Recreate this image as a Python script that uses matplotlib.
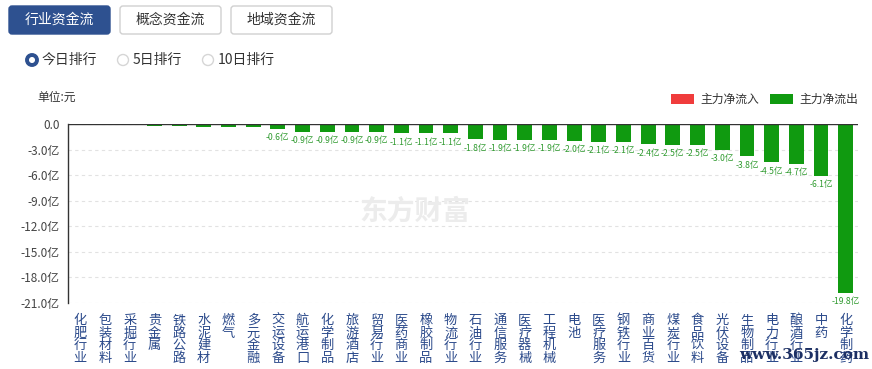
import numpy as np
import matplotlib
matplotlib.use("Agg")
import matplotlib.pyplot as plt
from matplotlib.patches import FancyBboxPatch, Circle, Patch

plt.rcParams['font.family'] = ['Noto Sans CJK SC', 'DejaVu Sans']

# data (亿元)
industries = ["化肥行业", "包装材料", "采掘行业", "贵金属", "铁路公路", "水泥建材", "燃气",
              "多元金融", "交运设备", "航运港口", "化学制品", "旅游酒店", "贸易行业", "医药商业",
              "橡胶制品", "物流行业", "石油行业", "通信服务", "医疗器械", "工程机械", "电池",
              "医疗服务", "钢铁行业", "商业百货", "煤炭行业", "食品饮料", "光伏设备", "生物制品",
              "电力行业", "酿酒行业", "中药", "化学制药"]
net_flow = [-0.02, -0.15, -0.15, -0.2, -0.25, -0.3, -0.35, -0.4, -0.6, -0.9, -0.9, -0.9,
            -0.9, -1.1, -1.1, -1.1, -1.8, -1.9, -1.9, -1.9, -2.0, -2.1, -2.1, -2.4, -2.5,
            -2.5, -3.0, -3.8, -4.5, -4.7, -6.1, -19.8]
yticks = [0, -3, -6, -9, -12, -15, -18, -21]
tabs = ["行业资金流", "概念资金流", "地域资金流"]
ranks = ["今日排行", "5日排行", "10日排行"]

W, H = 872, 369
fig = plt.figure(figsize=(W / 100, H / 100), dpi=100)

# overlay for page widgets, pixel coords
ov = fig.add_axes([0, 0, 1, 1])
ov.set_xlim(0, W)
ov.set_ylim(H, 0)
ov.axis("off")

blue = "#2e5190"
for i, t in enumerate(tabs):
    x0 = 9 + i * 111
    sel = i == 0
    ov.add_patch(FancyBboxPatch((x0, 6), 101, 28, boxstyle="round,pad=0,rounding_size=3",
                                fc=blue if sel else "white", ec=blue if sel else "#d0d0d0", lw=1))
    ov.text(x0 + 50.5, 20, t, ha="center", va="center", fontsize=10,
            color="white" if sel else "#333333")

rx = [32, 123, 208]
for i, t in enumerate(ranks):
    if i == 0:
        ov.add_patch(Circle((rx[i], 60), 5, fc="white", ec=blue, lw=2.8))
    else:
        ov.add_patch(Circle((rx[i], 60), 5.5, fc="white", ec="#d6d6d6", lw=1))
    ov.text(rx[i] + 10, 60, t, ha="left", va="center", fontsize=10, color="#333333")

ov.text(37, 97, "单位:元", ha="left", va="center", fontsize=8.5, color="#333333")

# faint watermark
ov.text(415, 212, "东方财富", ha="center", va="center", fontsize=20, color="#ececec",
        fontweight="bold", style="italic", zorder=0)

# main chart
ax = fig.add_axes([68 / W, 66 / H, 790 / W, 179 / H])
ax.patch.set_alpha(0)
x = np.arange(len(industries))
green = "#109a10"
ax.bar(x, net_flow, width=0.6, color=green, zorder=3)

for xi, v in zip(x, net_flow):
    if abs(v) >= 0.5:
        ax.annotate(f"{v:.1f}亿", (xi, v), xytext=(0, -3), textcoords="offset points",
                    ha="center", va="top", fontsize=6.2, color="#2f9a2f")

ax.set_xlim(-0.5, len(industries) - 0.5)
ax.set_ylim(-21, 0)
ax.set_yticks(yticks)
ax.set_yticklabels(["0.0"] + [f"{v:.1f}亿" for v in yticks[1:]], fontsize=8.5, color="#444444")
ax.set_xticks(x)
ax.set_xticklabels(["\n".join(s) for s in industries], fontsize=9.5, color="#2b4a8b",
                   linespacing=0.95, va="top")
ax.tick_params(axis="both", length=0)
ax.tick_params(axis="x", pad=8)
ax.tick_params(axis="y", pad=6)
for s in ["top", "right", "bottom"]:
    ax.spines[s].set_visible(False)
ax.spines["left"].set_color("#333333")
ax.spines["left"].set_linewidth(1)
ax.grid(axis="y", linestyle=(0, (3, 3)), color="#e2e2e2", lw=0.8, zorder=0)
ax.axhline(0, color="#333333", lw=1, zorder=4)

leg = ax.legend(handles=[Patch(fc="#f03c3c", ec="none", label="主力净流入"),
                         Patch(fc=green, ec="none", label="主力净流出")],
                loc="lower right", bbox_to_anchor=(1.0, 1.1), ncol=2, frameon=False,
                fontsize=8.5, handlelength=2.0, handleheight=0.95, columnspacing=0.9,
                handletextpad=0.5, borderpad=0, borderaxespad=0)
for t in leg.get_texts():
    t.set_color("#333333")

ov.text(869, 355, "www.365jz.com", ha="right", va="center", fontsize=11,
        family="DejaVu Serif", fontweight="bold", color="#1c2f63", zorder=10)
ov.set_zorder(5)

fig.savefig("out.png", dpi=100)
